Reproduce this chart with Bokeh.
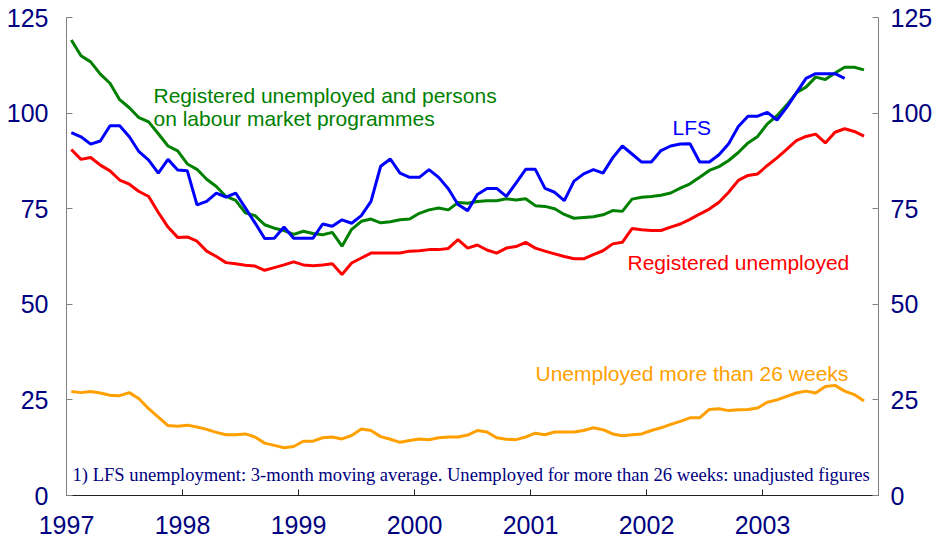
from bokeh.plotting import figure
from bokeh.models import LinearAxis, FixedTicker, Label, Range1d
from bokeh.embed import file_html
from bokeh.resources import INLINE

# Monthly data, Jan 1997 - Nov 2003 (thousands)
reg_and_programmes = [
    119.1, 115.0, 113.4, 110.2, 107.8, 103.5, 101.4, 98.8, 97.7, 94.6, 91.4, 90.1,
    86.7, 85.3, 82.7, 80.8, 78.2, 77.2, 73.9, 73.2, 70.8, 69.9, 69.3, 68.3,
    69.1, 68.5, 68.2, 68.8, 65.2, 69.6, 71.7, 72.3, 71.3, 71.6, 72.1, 72.3,
    73.8, 74.7, 75.2, 74.7, 76.6, 76.4, 76.9, 77.1, 77.1, 77.6, 77.3, 77.6,
    75.8, 75.6, 75.0, 73.5, 72.5, 72.7, 72.9, 73.4, 74.5, 74.3, 77.5, 78.0,
    78.2, 78.5, 79.1, 80.4, 81.5, 83.2, 85.0, 86.0, 87.6, 89.7, 92.2, 93.9,
    97.2, 99.3, 102.1, 105.3, 106.8, 109.4, 108.8, 110.5, 112.0, 112.0, 111.3,
]
registered = [
    90.5, 87.9, 88.4, 86.4, 84.9, 82.5, 81.4, 79.5, 78.2, 74.0, 70.2, 67.5,
    67.6, 66.5, 63.9, 62.5, 60.9, 60.6, 60.2, 60.0, 58.9, 59.6, 60.3, 61.1,
    60.3, 60.1, 60.3, 60.6, 57.8, 60.8, 62.1, 63.4, 63.4, 63.4, 63.4, 63.9,
    64.0, 64.3, 64.3, 64.6, 66.9, 64.7, 65.5, 64.2, 63.4, 64.7, 65.1, 66.2,
    64.7, 63.9, 63.2, 62.5, 61.9, 61.9, 63.0, 64.0, 65.8, 66.2, 69.8, 69.5,
    69.3, 69.3, 70.2, 71.0, 72.2, 73.6, 74.9, 76.7, 79.3, 82.4, 83.7, 84.1,
    86.3, 88.3, 90.5, 92.8, 93.9, 94.5, 92.2, 95.0, 95.9, 95.2, 94.0,
]
lfs = [
    94.9, 93.8, 91.9, 92.7, 96.7, 96.7, 93.8, 89.9, 87.7, 84.3, 87.9, 85.1,
    84.9, 76.0, 76.9, 79.1, 78.0, 79.1, 75.2, 71.3, 67.2, 67.3, 70.2, 67.3,
    67.3, 67.3, 71.0, 70.4, 72.1, 71.2, 73.2, 76.9, 86.1, 88.0, 84.3, 83.2,
    83.2, 85.2, 83.2, 80.2, 76.1, 74.5, 78.7, 80.3, 80.3, 78.2, 81.7, 85.3,
    85.3, 80.3, 79.3, 77.1, 82.2, 84.1, 85.2, 84.3, 88.3, 91.4, 89.3, 87.2,
    87.2, 90.2, 91.4, 91.9, 92.0, 87.2, 87.2, 89.1, 92.0, 96.5, 99.2, 99.2,
    100.2, 98.2, 101.5, 105.3, 109.1, 110.3, 110.3, 110.3, 109.1,
]
long_term = [
    27.2, 26.9, 27.2, 26.8, 26.2, 26.1, 26.9, 25.3, 22.7, 20.5, 18.3, 18.1,
    18.4, 17.9, 17.3, 16.5, 15.9, 15.9, 16.1, 15.3, 13.7, 13.1, 12.5, 12.8,
    14.2, 14.2, 15.1, 15.3, 14.8, 15.7, 17.4, 17.0, 15.4, 14.7, 13.9, 14.4,
    14.8, 14.6, 15.1, 15.3, 15.3, 15.8, 17.0, 16.6, 15.1, 14.7, 14.6, 15.3,
    16.3, 15.9, 16.6, 16.6, 16.6, 17.0, 17.7, 17.2, 16.1, 15.6, 15.9, 16.1,
    17.0, 17.7, 18.6, 19.4, 20.3, 20.3, 22.5, 22.7, 22.2, 22.4, 22.5, 22.9,
    24.4, 25.0, 25.9, 26.8, 27.3, 26.8, 28.5, 28.8, 27.3, 26.4, 24.7,
]
year_ticks = [1997, 1998, 1999, 2000, 2001, 2002, 2003]
y_ticks = [0, 25, 50, 75, 100, 125]

START_YEAR = 1997


def month_x(n):
    return [START_YEAR + (i + 0.5) / 12 for i in range(n)]


NAVY = "#000080"
FONT = "Liberation Sans"

p = figure(width=943, height=543, output_backend="svg", toolbar_location=None,
           x_range=Range1d(1997, 2004), y_range=Range1d(0, 125),
           min_border_left=66, min_border_right=65, min_border_top=17,
           min_border_bottom=48)
p.outline_line_color = None
p.grid.visible = False
p.background_fill_color = "white"
p.border_fill_color = "white"

# axes
xa = p.xaxis[0]
xa.ticker = FixedTicker(ticks=year_ticks)
xa.major_tick_in = 6
xa.major_tick_out = 0
xa.minor_tick_line_color = None
xa.axis_line_color = "#222222"
xa.major_tick_line_color = "#222222"
xa.major_label_text_font = FONT
xa.major_label_text_font_size = "25px"
xa.major_label_text_color = NAVY
xa.major_label_standoff = 20

ya = p.yaxis[0]
ya.ticker = FixedTicker(ticks=y_ticks)
ya.major_tick_in = 6
ya.major_tick_out = 0
ya.minor_tick_line_color = None
ya.axis_line_color = "#808080"
ya.major_tick_line_color = "#808080"
ya.major_label_text_font = FONT
ya.major_label_text_font_size = "25px"
ya.major_label_text_color = NAVY
ya.major_label_standoff = 18

ra = LinearAxis(ticker=FixedTicker(ticks=y_ticks))
ra.major_tick_in = 6
ra.major_tick_out = 0
ra.minor_tick_line_color = None
ra.axis_line_color = "#808080"
ra.major_tick_line_color = "#808080"
ra.major_label_text_font = FONT
ra.major_label_text_font_size = "25px"
ra.major_label_text_color = NAVY
ra.major_label_standoff = 12
p.add_layout(ra, "right")

# lines
p.line(month_x(len(long_term)), long_term, line_color="#FFA000", line_width=3)
p.line(month_x(len(registered)), registered, line_color="#FF0000", line_width=3)
p.line(month_x(len(reg_and_programmes)), reg_and_programmes, line_color="#008000", line_width=3)
p.line(month_x(len(lfs)), lfs, line_color="#0000FF", line_width=3)


# labels
def add_label(x, y, text, color, font=FONT, size="21px"):
    p.add_layout(Label(x=x, y=y, text=text, text_color=color, text_font=font,
                       text_font_size=size, text_baseline="alphabetic",
                       text_align="left"))


add_label(1997.75, 104.6, "Registered unemployed and persons", "#008000")
add_label(1997.75, 98.7, "on labour market programmes", "#008000")
add_label(2002.224, 96.2, "LFS", "#0000FF")
add_label(2001.836, 60.9, "Registered unemployed", "#FF0000")
add_label(2001.043, 31.9, "Unemployed more than 26 weeks", "#FFA000")
add_label(1997.052, 5.6,
          "1) LFS unemployment: 3-month moving average. Unemployed for more than 26 weeks: unadjusted figures",
          NAVY, font="Liberation Serif", size="18.6px")

open("out.html", "w").write(file_html(p, INLINE))
